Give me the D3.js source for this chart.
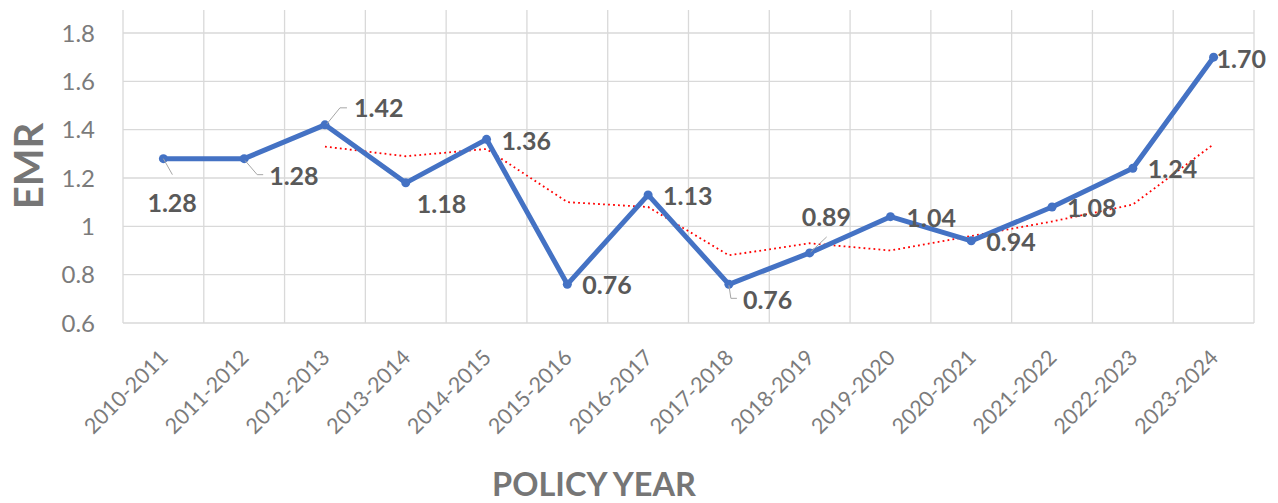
<!DOCTYPE html>
<html><head><meta charset="utf-8">
<script src="https://cdn.jsdelivr.net/npm/d3@7"></script>
<style>
html,body{margin:0;padding:0;background:#fff;}
text{font-family:Lato,"Open Sans",sans-serif;}
</style></head>
<body><svg id="chart" width="1278" height="503"></svg>
<script>
const categories = ["2010-2011","2011-2012","2012-2013","2013-2014","2014-2015","2015-2016","2016-2017","2017-2018","2018-2019","2019-2020","2020-2021","2021-2022","2022-2023","2023-2024"];
const emrValues = [1.28,1.28,1.42,1.18,1.36,0.76,1.13,0.76,0.89,1.04,0.94,1.08,1.24,1.70];
const movingAvgCategories = categories.slice(2);
const movingAvgValues = [1.33,1.29,1.32,1.10,1.08,0.88,0.93,0.90,0.96,1.02,1.09,1.34];
const yTicks = [0.6,0.8,1,1.2,1.4,1.6,1.8];
const yTickLabels = ["0.6","0.8","1","1.2","1.4","1.6","1.8"];

// label placement (layout only): offset of label text start from its point, optional leader line
const labelLayout = [
  {dx:-16,dy:53,leader:[[0,0],[9,16]]},
  {dx:25,dy:26,leader:[[1,2],[13,16],[19,16]]},
  {dx:29,dy:-8,leader:[[2,-1],[15,-17],[22,-17]]},
  {dx:11,dy:30},
  {dx:15,dy:11},
  {dx:15,dy:10},
  {dx:15,dy:10},
  {dx:14,dy:25,leader:[[0,1],[2,14],[8,14]]},
  {dx:-8,dy:-27,leader:[[1,-1],[17,-16]]},
  {dx:16,dy:10},
  {dx:15,dy:10},
  {dx:15,dy:10},
  {dx:15,dy:10},
  {dx:3,dy:11}
];

const svg = d3.select("#chart");
const L = 123, R = 1254, T = 10, B = 323;
const x = d3.scaleBand().domain(categories).range([L, R]).padding(0);
const y = d3.scaleLinear().domain([0.6, 1.8]).range([B, 33]);
const cx = c => x(c) + x.bandwidth() / 2;

// horizontal gridlines
svg.append("g").selectAll("line").data(yTicks).join("line")
  .attr("x1", L).attr("x2", R).attr("y1", d => y(d)).attr("y2", d => y(d))
  .attr("stroke", "#d9d9d9").attr("stroke-width", 1.3);
// vertical gridlines
const vb = categories.map(c => x(c)).concat([R]);
svg.append("g").selectAll("line").data(vb).join("line")
  .attr("x1", d => d).attr("x2", d => d).attr("y1", T).attr("y2", B)
  .attr("stroke", "#d9d9d9").attr("stroke-width", 1.3);

// y tick labels
svg.append("g").selectAll("text").data(yTicks).join("text")
  .attr("x", 95).attr("y", d => y(d)).attr("dy", "0.36em")
  .attr("text-anchor", "end").attr("font-size", 24).attr("fill", "#7b7b7b")
  .text((d, i) => yTickLabels[i]);

// x tick labels
svg.append("g").selectAll("text").data(categories).join("text")
  .attr("transform", d => `translate(${cx(d) + 6},${359}) rotate(-45)`)
  .attr("text-anchor", "end").attr("font-size", 21.5).attr("fill", "#7b7b7b")
  .text(d => d);

// axis titles
svg.append("text").attr("transform", "translate(43,166) rotate(-90)")
  .attr("text-anchor", "middle").attr("font-size", 40).attr("font-weight", 700)
  .attr("fill", "#767676").text("EMR");
svg.append("text").attr("x", 594).attr("y", 496)
  .attr("text-anchor", "middle").attr("font-size", 32.5).attr("font-weight", 700)
  .attr("fill", "#767676").text("POLICY YEAR");

// moving average (red dotted)
const lineMA = d3.line().x((d, i) => cx(movingAvgCategories[i])).y(d => y(d)).curve(d3.curveLinear);
svg.append("path").datum(movingAvgValues).attr("d", lineMA)
  .attr("fill", "none").attr("stroke", "#ff0000").attr("stroke-width", 1.8)
  .attr("stroke-dasharray", "1.8,3.2");

// main line
const line = d3.line().x((d, i) => cx(categories[i])).y(d => y(d));
svg.append("path").datum(emrValues).attr("d", line)
  .attr("fill", "none").attr("stroke", "#4472c4").attr("stroke-width", 5)
  .attr("stroke-linejoin", "round");
svg.append("g").selectAll("circle").data(emrValues).join("circle")
  .attr("cx", (d, i) => cx(categories[i])).attr("cy", d => y(d)).attr("r", 4.5)
  .attr("fill", "#4472c4");

// leader lines
const leaders = svg.append("g");
emrValues.forEach((v, i) => {
  const lay = labelLayout[i];
  if (!lay.leader) return;
  const px = cx(categories[i]), py = y(v);
  leaders.append("path")
    .attr("d", d3.line()(lay.leader.map(p => [px + p[0], py + p[1]])))
    .attr("fill", "none").attr("stroke", "#a6a6a6").attr("stroke-width", 1);
});

// data labels
svg.append("g").selectAll("text").data(emrValues).join("text")
  .attr("x", (d, i) => cx(categories[i]) + labelLayout[i].dx)
  .attr("y", (d, i) => y(d) + labelLayout[i].dy)
  .attr("font-size", 25).attr("font-weight", 700).attr("fill", "#595959")
  .text(d => d.toFixed(2));
</script></body></html>
